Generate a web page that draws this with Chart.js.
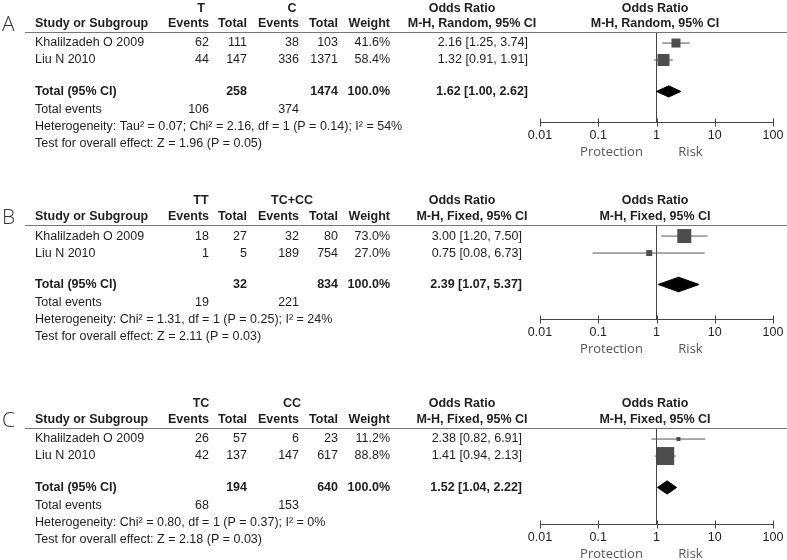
<!DOCTYPE html>
<html>
<head>
<meta charset="utf-8">
<script src="https://cdn.jsdelivr.net/npm/chart.js@4"></script>
<style>
    body { margin: 0; background: #fff; width: 787px; height: 560px; position: relative; overflow: hidden; }
    canvas { position: absolute; left: 0; }
</style>
</head>
<body>
<canvas id="chartA" width="787" height="165" style="top:0px"></canvas>
<canvas id="chartB" width="787" height="200" style="top:160px"></canvas>
<canvas id="chartC" width="787" height="210" style="top:350px"></canvas>
<script>
// shared
const studies = ['Khalilzadeh O 2009', 'Liu N 2010'];
const oddsTicks = [0.01, 0.1, 1, 10, 100];

// A: T vs C, random effects
const aGroups = ['T', 'C'];
const aMethod = 'M-H, Random, 95% CI';
const aEventsExp = [62, 44];
const aTotalExp = [111, 147];
const aEventsCtl = [38, 336];
const aTotalCtl = [103, 1371];
const aWeight = [41.6, 58.4];
const aOR = [2.16, 1.32];
const aLow = [1.25, 0.91];
const aHigh = [3.74, 1.91];
const aPooled = [1.62, 1.00, 2.62];
const aSums = [258, 1474];
const aSumEvents = [106, 374];
const aHet = 'Heterogeneity: Tau\u00b2 = 0.07; Chi\u00b2 = 2.16, df = 1 (P = 0.14); I\u00b2 = 54%';
const aTest = 'Test for overall effect: Z = 1.96 (P = 0.05)';

// B: TT vs TC+CC, fixed
const bGroups = ['TT', 'TC+CC'];
const bMethod = 'M-H, Fixed, 95% CI';
const bEventsExp = [18, 1];
const bTotalExp = [27, 5];
const bEventsCtl = [32, 189];
const bTotalCtl = [80, 754];
const bWeight = [73.0, 27.0];
const bOR = [3.00, 0.75];
const bLow = [1.20, 0.08];
const bHigh = [7.50, 6.73];
const bPooled = [2.39, 1.07, 5.37];
const bSums = [32, 834];
const bSumEvents = [19, 221];
const bHet = 'Heterogeneity: Chi\u00b2 = 1.31, df = 1 (P = 0.25); I\u00b2 = 24%';
const bTest = 'Test for overall effect: Z = 2.11 (P = 0.03)';

// C: TC vs CC, fixed
const cGroups = ['TC', 'CC'];
const cMethod = 'M-H, Fixed, 95% CI';
const cEventsExp = [26, 42];
const cTotalExp = [57, 137];
const cEventsCtl = [6, 147];
const cTotalCtl = [23, 617];
const cWeight = [11.2, 88.8];
const cOR = [2.38, 1.41];
const cLow = [0.82, 0.94];
const cHigh = [6.91, 2.13];
const cPooled = [1.52, 1.04, 2.22];
const cSums = [194, 640];
const cSumEvents = [68, 153];
const cHet = 'Heterogeneity: Chi\u00b2 = 0.80, df = 1 (P = 0.37); I\u00b2 = 0%';
const cTest = 'Test for overall effect: Z = 2.18 (P = 0.03)';

// layout (row units of 17px, pixel columns)
const ROWS = [0, 1];
const ROW_TOTAL = 2.85;
const ROW_EVENTS = 3.9, ROW_HET = 4.9, ROW_TEST = 5.9;
const ROW_HEAD1 = -2.06, ROW_HEAD2 = -1.12;
const Y_TOP = -0.65;
const FONT = '"Liberation Sans", Arial, sans-serif';
const TEXT = '#1e1e1e';

function fmtOR(o, l, h) {
    return o.toFixed(2) + ' [' + l.toFixed(2) + ', ' + h.toFixed(2) + ']';
}

function tablePlugin(p) {
    return {
        id: 'table' + p.letter,
        afterDraw(chart) {
            const ctx = chart.ctx;
            const ys = chart.scales.y;
            const xs = chart.scales.x;
            const py = v => ys.getPixelForValue(v);
            const top = chart.chartArea.top, bottom = chart.chartArea.bottom;
            ctx.save();
            ctx.textBaseline = 'middle';

            // panel letter
            ctx.fillStyle = '#333';
            ctx.font = '300 21px "Open Sans", sans-serif';
            ctx.textAlign = 'left';
            ctx.fillText(p.letter, 2, top - 7);

            // header rule
            ctx.strokeStyle = '#777';
            ctx.lineWidth = 1;
            ctx.beginPath();
            ctx.moveTo(25, Math.round(top) + 0.5);
            ctx.lineTo(787, Math.round(top) + 0.5);
            ctx.stroke();

            // headers
            ctx.fillStyle = TEXT;
            ctx.font = 'bold 12.5px ' + FONT;
            ctx.textAlign = 'center';
            ctx.fillText(p.groups[0], 201, py(ROW_HEAD1));
            ctx.fillText(p.groups[1], 292, py(ROW_HEAD1));
            ctx.fillText('Odds Ratio', 462, py(ROW_HEAD1));
            ctx.fillText(p.method, 472, py(ROW_HEAD2));
            ctx.fillText('Odds Ratio', 655, py(ROW_HEAD1));
            ctx.fillText(p.method, 655, py(ROW_HEAD2));
            ctx.textAlign = 'left';
            ctx.fillText('Study or Subgroup', 35, py(ROW_HEAD2));
            ctx.textAlign = 'right';
            ctx.fillText('Events', 209, py(ROW_HEAD2));
            ctx.fillText('Total', 247, py(ROW_HEAD2));
            ctx.fillText('Events', 299, py(ROW_HEAD2));
            ctx.fillText('Total', 338, py(ROW_HEAD2));
            ctx.fillText('Weight', 390, py(ROW_HEAD2));

            // study rows
            ctx.font = '12.5px ' + FONT;
            studies.forEach((s, i) => {
                const y = py(ROWS[i]);
                ctx.textAlign = 'left';
                ctx.fillText(s, 35, y);
                ctx.textAlign = 'right';
                ctx.fillText(String(p.evE[i]), 209, y);
                ctx.fillText(String(p.totE[i]), 247, y);
                ctx.fillText(String(p.evC[i]), 299, y);
                ctx.fillText(String(p.totC[i]), 338, y);
                ctx.fillText(p.weight[i].toFixed(1) + '%', 390, y);
                ctx.fillText(fmtOR(p.or[i], p.low[i], p.high[i]), p.orRight, y);
            });

            // total row
            ctx.font = 'bold 12.5px ' + FONT;
            let y = py(ROW_TOTAL);
            ctx.textAlign = 'left';
            ctx.fillText('Total (95% CI)', 35, y);
            ctx.textAlign = 'right';
            ctx.fillText(String(p.sums[0]), 247, y);
            ctx.fillText(String(p.sums[1]), 338, y);
            ctx.fillText('100.0%', 390, y);
            ctx.fillText(fmtOR(p.pooled[0], p.pooled[1], p.pooled[2]), p.orRight, y);

            ctx.font = '12.5px ' + FONT;
            y = py(ROW_EVENTS);
            ctx.textAlign = 'left';
            ctx.fillText('Total events', 35, y);
            ctx.textAlign = 'right';
            ctx.fillText(String(p.sumEv[0]), 209, y);
            ctx.fillText(String(p.sumEv[1]), 299, y);
            ctx.textAlign = 'left';
            ctx.fillText(p.het, 35, py(ROW_HET));
            ctx.fillText(p.test, 35, py(ROW_TEST));

            // odds ratio axis
            const x0 = xs.getPixelForValue(oddsTicks[0]);
            const x1 = xs.getPixelForValue(oddsTicks[oddsTicks.length - 1]);
            const ay = Math.round(bottom) + 0.5;
            ctx.strokeStyle = '#444';
            ctx.beginPath();
            ctx.moveTo(x0, ay);
            ctx.lineTo(x1, ay);
            oddsTicks.forEach(t => {
                const tx = Math.round(xs.getPixelForValue(t)) + 0.5;
                ctx.moveTo(tx, ay - 4);
                ctx.lineTo(tx, ay + 4);
            });
            ctx.stroke();
            ctx.textAlign = 'center';
            ctx.fillStyle = '#222';
            oddsTicks.forEach(t => {
                ctx.fillText(String(t), xs.getPixelForValue(t), ay + 13);
            });
            const xOne = xs.getPixelForValue(1);
            ctx.fillStyle = '#555';
            ctx.font = '13px "Open Sans", sans-serif';
            ctx.fillText('Protection', xOne - 45, ay + 30);
            ctx.fillText('Risk', xOne + 34, ay + 30);
            ctx.restore();
        }
    };
}

function doPanel(id, p) {
    const datasets = [];
    // study squares
    datasets.push({
        data: ROWS.map((r, i) => ({ x: p.or[i], y: r })),
        pointStyle: 'rect',
        pointRadius: p.squares.map(s => s / Math.SQRT2),
        backgroundColor: '#4d4d4d',
        borderWidth: 0,
        order: 0
    });
    // confidence intervals
    ROWS.forEach((r, i) => {
        datasets.push({
            data: [{ x: p.low[i], y: r }, { x: p.high[i], y: r }],
            showLine: true,
            borderColor: '#555',
            borderWidth: 1,
            pointRadius: 0,
            order: 2
        });
    });
    // pooled diamond
    const d = p.diamond;
    datasets.push({
        data: [
            { x: p.pooled[1], y: ROW_TOTAL },
            { x: p.pooled[0], y: ROW_TOTAL - d },
            { x: p.pooled[2], y: ROW_TOTAL },
            { x: p.pooled[0], y: ROW_TOTAL + d },
            { x: p.pooled[1], y: ROW_TOTAL }
        ],
        showLine: true,
        fill: 'shape',
        tension: 0,
        backgroundColor: '#000',
        borderColor: '#000',
        borderWidth: 1,
        pointRadius: 0,
        order: 1
    });
    // line of no effect
    datasets.push({
        data: [{ x: 1, y: Y_TOP }, { x: 1, y: p.yMax }],
        showLine: true,
        borderColor: '#444',
        borderWidth: 1,
        pointRadius: 0,
        order: 3
    });

    const ctx = document.getElementById(id).getContext('2d');
    return new Chart(ctx, {
        type: 'scatter',
        data: { datasets: datasets },
        options: {
            responsive: false,
            animation: false,
            layout: { padding: p.padding },
            scales: {
                x: { type: 'logarithmic', min: 0.01, max: 100, display: false },
                y: { type: 'linear', min: Y_TOP, max: p.yMax, reverse: true, display: false }
            },
            plugins: { legend: { display: false }, tooltip: { enabled: false } }
        },
        plugins: [tablePlugin(p)]
    });
}

doPanel('chartA', {
    letter: 'A', groups: aGroups, method: aMethod,
    evE: aEventsExp, totE: aTotalExp, evC: aEventsCtl, totC: aTotalCtl, weight: aWeight,
    or: aOR, low: aLow, high: aHigh, pooled: aPooled, sums: aSums, sumEv: aSumEvents,
    het: aHet, test: aTest,
    orRight: 528, squares: [9, 12], diamond: 0.33, yMax: 4.65,
    padding: { left: 540, right: 14, top: 32, bottom: 43 }
});
doPanel('chartB', {
    letter: 'B', groups: bGroups, method: bMethod,
    evE: bEventsExp, totE: bTotalExp, evC: bEventsCtl, totC: bTotalCtl, weight: bWeight,
    or: bOR, low: bLow, high: bHigh, pooled: bPooled, sums: bSums, sumEv: bSumEvents,
    het: bHet, test: bTest,
    orRight: 522, squares: [14, 6], diamond: 0.43, yMax: 4.88,
    padding: { left: 540, right: 14, top: 65, bottom: 41 }
});
doPanel('chartC', {
    letter: 'C', groups: cGroups, method: cMethod,
    evE: cEventsExp, totE: cTotalExp, evC: cEventsCtl, totC: cTotalCtl, weight: cWeight,
    or: cOR, low: cLow, high: cHigh, pooled: cPooled, sums: cSums, sumEv: cSumEvents,
    het: cHet, test: cTest,
    orRight: 522, squares: [4, 18], diamond: 0.39, yMax: 5.0,
    padding: { left: 540, right: 14, top: 78, bottom: 36 }
});
</script>
</body>
</html>
